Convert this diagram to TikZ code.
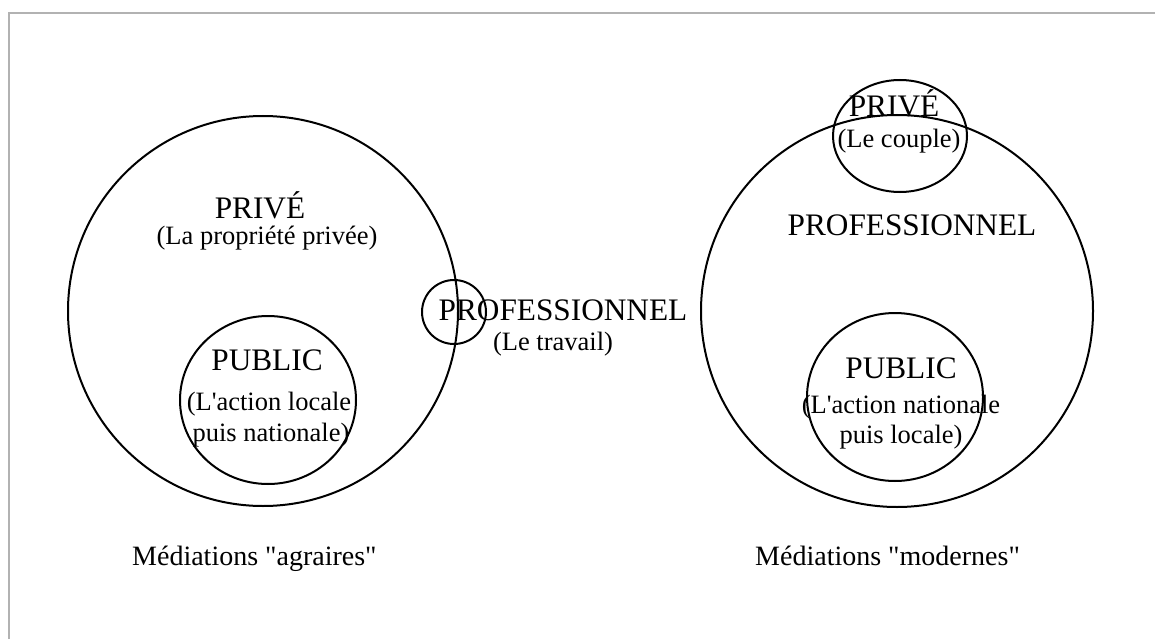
\documentclass[tikz,border=0pt]{standalone}
\usepackage{fontspec}
\newfontfamily\timesfont{Liberation Serif}
\begin{document}
\begin{tikzpicture}[x=1pt, y=-1pt,
  ring/.style={line width=2pt},
  title/.style={anchor=base, inner sep=0pt, font=\timesfont\fontsize{31.3}{36}\selectfont},
  sub/.style={anchor=base, inner sep=0pt, font=\timesfont\fontsize{26.5}{30}\selectfont},
  caption/.style={anchor=base west, inner sep=0pt, font=\timesfont\fontsize{28}{32}\selectfont}]
  \useasboundingbox (0,0) rectangle (1155,639);

  % Frame
  \draw[gray!60, line width=2pt] (8.5,639) -- (8.5,13) -- (1155,13);

  % Agrarian mediations
  \draw[ring] (263,311) circle[radius=195];
  \draw[ring] (268,400) ellipse[x radius=88, y radius=84];
  \draw[ring] (454,312) circle[radius=32];
  \node[title] (priveL) at (260,218) {PRIVÉ};
  \node[sub] (priveLsub) at (267,244) {(La propriété privée)};
  \node[title] (publicL) at (267,370) {PUBLIC};
  \node[sub] (publicLa) at (269,410) {(L'action locale};
  \node[sub] (publicLb) at (271,441) {puis nationale)};
  \node[title] (proM) at (563,320) {PROFESSIONNEL};
  \node[sub] (proMsub) at (553,350) {(Le travail)};
  \node[caption] (capL) at (132,565) {Médiations "agraires"};

  % Modern mediations
  \draw[ring] (897,311) circle[radius=196];
  \draw[ring] (900,136) ellipse[x radius=67, y radius=56];
  \draw[ring] (895,397) ellipse[x radius=88, y radius=84];
  \node[title] (priveR) at (894,117) {PRIVÉ};
  \node[sub] (priveRsub) at (899,148) {(Le couple)};
  \node[title] (proR) at (912,235) {PROFESSIONNEL};
  \node[title] (publicR) at (901,378) {PUBLIC};
  \node[sub] (publicRa) at (901,413) {(L'action nationale};
  \node[sub] (publicRb) at (901,443) {puis locale)};
  \node[caption] (capR) at (755,565) {Médiations "modernes"};
\end{tikzpicture}
\end{document}
